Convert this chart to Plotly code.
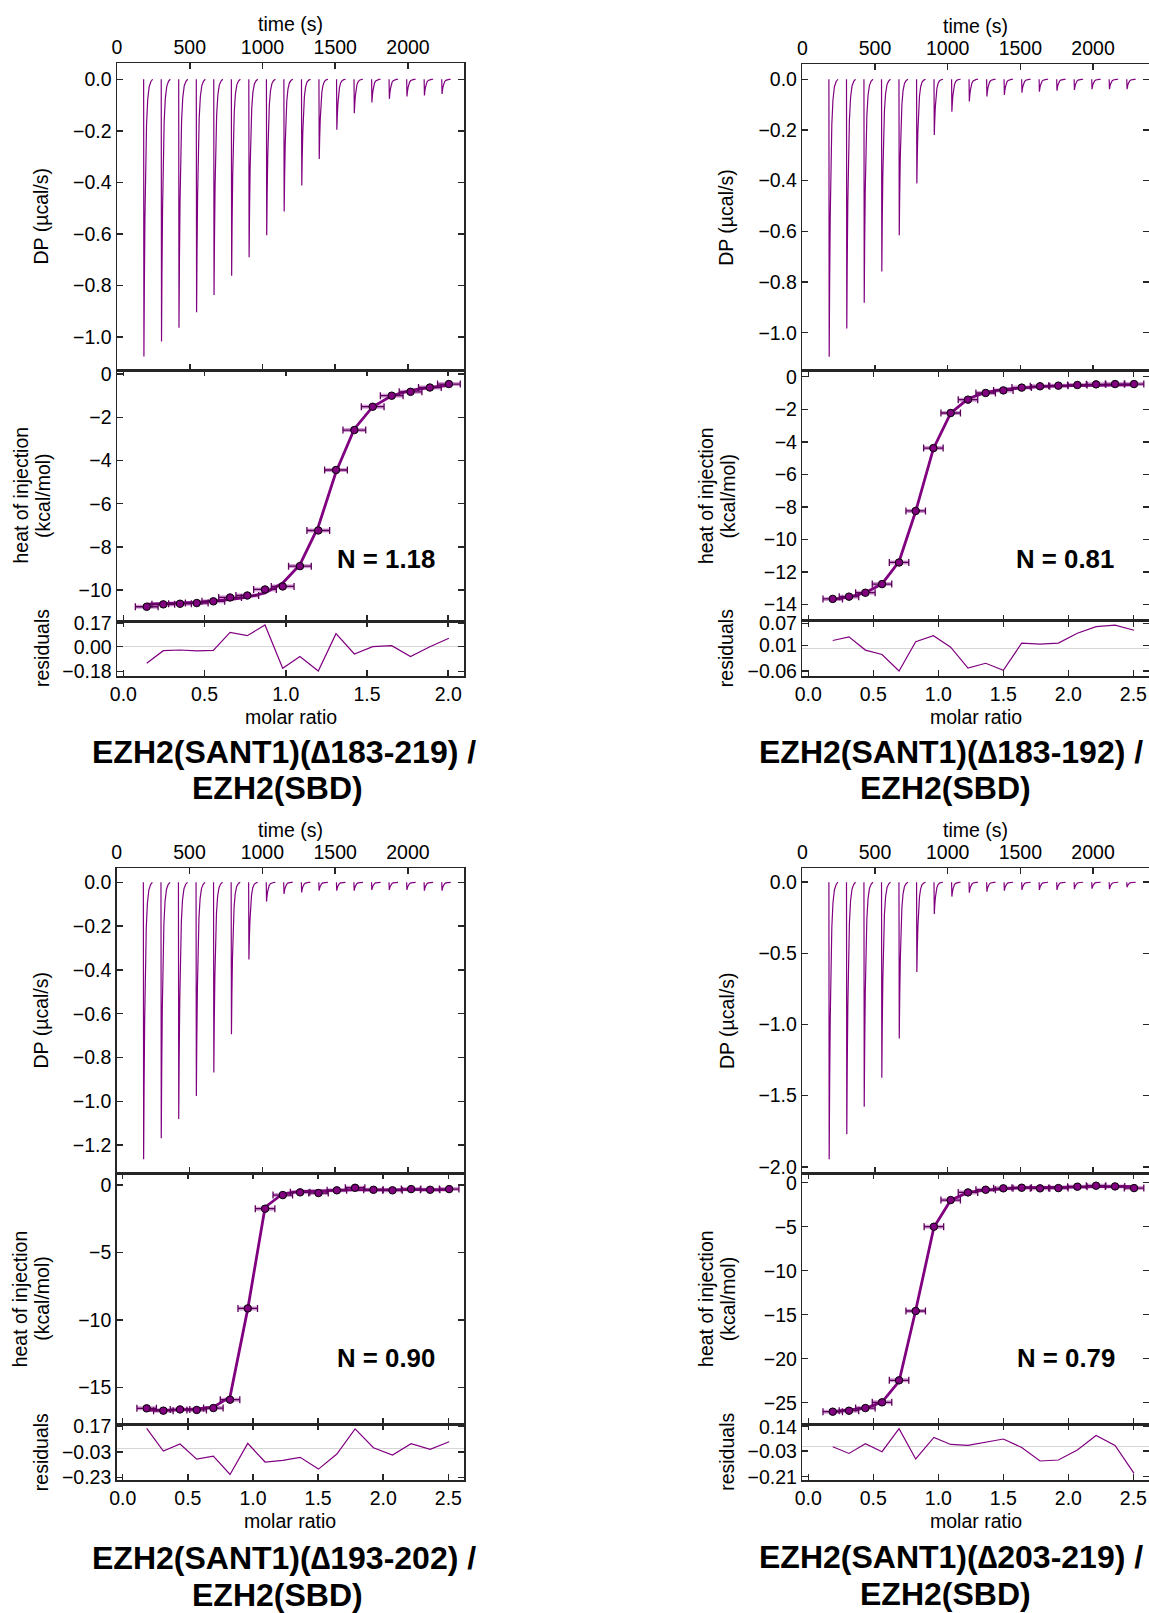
import plotly.graph_objects as go

FONT = "Liberation Sans, Arial, Helvetica, sans-serif"
W, H = 1149, 1613
PURPLE = "#800080"
DARK = "#5a005a"
LIGHT = "rgba(175,70,175,0.55)"
FRAME = "#262626"

# ---------------- data ----------------
inj_time = [183, 304, 424, 545, 665, 786, 906, 1027, 1147, 1268, 1388, 1509,
            1629, 1750, 1870, 1991, 2111, 2232]
# recovery profile of one injection peak (seconds after injection, fraction of peak)
spike_dt = [0, 2, 5, 9, 14, 20, 28, 38, 50, 62]
spike_frac = [0, 1.0, 0.74, 0.5, 0.3, 0.165, 0.074, 0.027, 0.008, 0.0]
time_ticks = [0, 500, 1000, 1500, 2000]

# Panel A
a_title1 = "EZH2(SANT1)(∆183-219) /"
a_title2 = "EZH2(SBD)"
a_n = "N = 1.18"
a_peak = [-1.075, -1.017, -0.963, -0.903, -0.836, -0.762, -0.690, -0.605, -0.513,
          -0.412, -0.309, -0.196, -0.132, -0.090, -0.076, -0.067, -0.063, -0.057]
a_ratio = [0.144, 0.246, 0.349, 0.452, 0.554, 0.657, 0.763, 0.872, 0.981, 1.087,
           1.200, 1.309, 1.422, 1.535, 1.652, 1.768, 1.887, 2.004]
a_heat = [-10.77, -10.66, -10.63, -10.60, -10.52, -10.34, -10.25, -9.97, -9.83,
          -8.89, -7.24, -4.44, -2.59, -1.51, -1.00, -0.82, -0.62, -0.46]
a_resid = [-0.121, -0.029, -0.024, -0.031, -0.026, 0.104, 0.080, 0.158, -0.157,
           -0.072, -0.177, 0.095, -0.053, 0.000, 0.008, -0.072, 0.000, 0.061]
a_res_ticks = [0.17, 0.0, -0.18]
a_res_labels = ["0.17", "0.00", "−0.18"]

# Panel B
b_title1 = "EZH2(SANT1)(∆183-192) /"
b_title2 = "EZH2(SBD)"
b_n = "N = 0.81"
b_peak = [-1.095, -0.983, -0.882, -0.759, -0.616, -0.411, -0.220, -0.128, -0.088,
          -0.068, -0.062, -0.053, -0.049, -0.045, -0.042, -0.039, -0.039, -0.039]
b_ratio = [0.188, 0.313, 0.439, 0.567, 0.698, 0.826, 0.962, 1.095, 1.228, 1.364,
           1.500, 1.641, 1.782, 1.923, 2.069, 2.213, 2.359, 2.505]
b_heat = [-13.66, -13.52, -13.28, -12.75, -11.42, -8.25, -4.39, -2.23, -1.41,
          -1.00, -0.84, -0.67, -0.59, -0.55, -0.51, -0.47, -0.45, -0.45]
b_resid = [0.023, 0.033, -0.003, -0.015, -0.060, 0.020, 0.036, 0.005, -0.052,
           -0.039, -0.058, 0.016, 0.013, 0.016, 0.043, 0.061, 0.065, 0.051]
b_res_ticks = [0.07, 0.01, -0.06]
b_res_labels = ["0.07", "0.01", "−0.06"]

# Panel C
c_title1 = "EZH2(SANT1)(∆193-202) /"
c_title2 = "EZH2(SBD)"
c_n = "N = 0.90"
c_peak = [-1.265, -1.169, -1.081, -0.976, -0.869, -0.694, -0.352, -0.088, -0.053,
          -0.046, -0.038, -0.038, -0.038, -0.035, -0.035, -0.035, -0.038, -0.038]
c_ratio = [0.184, 0.312, 0.440, 0.568, 0.696, 0.824, 0.960, 1.093, 1.229, 1.362,
           1.503, 1.644, 1.784, 1.925, 2.071, 2.214, 2.360, 2.506]
c_heat = [-16.53, -16.70, -16.61, -16.65, -16.51, -15.89, -9.13, -1.75, -0.74,
          -0.54, -0.59, -0.39, -0.20, -0.35, -0.39, -0.30, -0.35, -0.30]
c_resid = [0.157, -0.022, 0.033, -0.086, -0.062, -0.207, 0.038, -0.109, -0.096,
           -0.072, -0.165, -0.046, 0.152, 0.004, -0.054, 0.036, -0.009, 0.051]
c_res_ticks = [0.17, -0.03, -0.23]
c_res_labels = ["0.17", "−0.03", "−0.23"]

# Panel D
d_title1 = "EZH2(SANT1)(∆203-219) /"
d_title2 = "EZH2(SBD)"
d_n = "N = 0.79"
d_peak = [-1.948, -1.772, -1.578, -1.374, -1.099, -0.631, -0.223, -0.101, -0.073,
          -0.066, -0.059, -0.054, -0.054, -0.054, -0.049, -0.045, -0.049, -0.035]
d_ratio = [0.188, 0.313, 0.439, 0.567, 0.698, 0.826, 0.966, 1.095, 1.228, 1.364,
           1.500, 1.641, 1.782, 1.923, 2.069, 2.213, 2.359, 2.505]
d_heat = [-26.02, -25.91, -25.61, -24.96, -22.46, -14.58, -5.00, -1.97, -1.10,
          -0.80, -0.64, -0.57, -0.64, -0.61, -0.45, -0.34, -0.42, -0.61]
d_resid = [0.000, -0.047, 0.021, -0.035, 0.126, -0.086, 0.065, 0.016, 0.009,
           0.033, 0.054, -0.005, -0.100, -0.093, -0.023, 0.079, 0.009, -0.187]
d_res_ticks = [0.14, -0.03, -0.21]
d_res_labels = ["0.14", "−0.03", "−0.21"]

# ---------------- layout config (positions in pixels) ----------------
panels = [
    dict(t1=a_title1, t2=a_title2, n=a_n, peak=a_peak, ratio=a_ratio, heat=a_heat,
         resid=a_resid, rt=a_res_ticks, rl=a_res_labels,
         frame=(117, 464, 63, 370, 621, 676), dp_range=[-1.127, 0.063], dp_dtick=0.2,
         ratio_range=[-0.039, 2.097], heat_range=[-11.43, 0.19], heat_dtick=2,
         res_range=[-0.213, 0.187], xerr=0.07,
         n_xy=(385.8, 559), t1_xy=(284, 751.7), t2_xy=(277.5, 788)),
    dict(t1=b_title1, t2=b_title2, n=b_n, peak=b_peak, ratio=b_ratio, heat=b_heat,
         resid=b_resid, rt=b_res_ticks, rl=b_res_labels,
         frame=(802.3, 1149, 64.3, 370.7, 620.7, 676), dp_range=[-1.15, 0.059], dp_dtick=0.2,
         ratio_range=[-0.046, 2.62], heat_range=[-15.0, 0.37], heat_dtick=2,
         res_range=[-0.0736, 0.077], xerr=0.075,
         n_xy=(1065, 559), t1_xy=(950.7, 751.7), t2_xy=(945, 788)),
    dict(t1=c_title1, t2=c_title2, n=c_n, peak=c_peak, ratio=c_ratio, heat=c_heat,
         resid=c_resid, rt=c_res_ticks, rl=c_res_labels,
         frame=(116.7, 464, 868.3, 1173.3, 1424, 1480), dp_range=[-1.329, 0.064], dp_dtick=0.2,
         ratio_range=[-0.046, 2.62], heat_range=[-17.69, 0.87], heat_dtick=5,
         res_range=[-0.251, 0.191], xerr=0.075,
         n_xy=(385.8, 1357.5), t1_xy=(284, 1558), t2_xy=(277.5, 1595)),
    dict(t1=d_title1, t2=d_title2, n=d_n, peak=d_peak, ratio=d_ratio, heat=d_heat,
         resid=d_resid, rt=d_res_ticks, rl=d_res_labels,
         frame=(802.3, 1149, 868.3, 1173.3, 1424, 1480), dp_range=[-2.046, 0.098], dp_dtick=0.5,
         ratio_range=[-0.046, 2.62], heat_range=[-27.42, 1.07], heat_dtick=5,
         res_range=[-0.233, 0.159], xerr=0.075,
         n_xy=(1065.8, 1357.5), t1_xy=(950.7, 1557), t2_xy=(945, 1594)),
]

TICKFONT = dict(family=FONT, size=19.5, color="black")
base_axis = dict(showline=True, linecolor=FRAME, linewidth=1.5, mirror="ticks",
                 ticks="inside", ticklen=6, tickwidth=1.5, tickcolor=FRAME,
                 showgrid=False, zeroline=False, tickfont=TICKFONT, fixedrange=True,
                 automargin=False)


def px(x):
    return x / W


def py(y):
    return 1 - y / H


def nm(i):
    return "" if i == 1 else str(i)


fig = go.Figure()
layout = {}
ann = []


def add_text(text, x, y, size=19.5, angle=0, bold=False):
    ann.append(dict(text=("<b>%s</b>" % text) if bold else text, x=px(x), y=py(y),
                    xref="paper", yref="paper", showarrow=False, textangle=angle,
                    xanchor="center", yanchor="middle",
                    font=dict(family=FONT, size=size, color="black")))


for j, p in enumerate(panels):
    L, R, T, M1, M2, B = p["frame"]
    xd = [px(L), min(px(R), 1.0)]
    i_dp, i_ht, i_rs = 3 * j + 1, 3 * j + 2, 3 * j + 3

    # thermogram
    xs, ys = [], []
    for t0, pk in zip(inj_time, p["peak"]):
        for dt, fr in zip(spike_dt, spike_frac):
            xs.append(t0 + dt)
            ys.append(pk * fr)
        xs.append(None)
        ys.append(None)
    fig.add_trace(go.Scatter(x=xs, y=ys, mode="lines", line=dict(color=PURPLE, width=1.2),
                             xaxis="x" + nm(i_dp), yaxis="y" + nm(i_dp), hoverinfo="skip"))

    # isotherm
    fit = [h - r for h, r in zip(p["heat"], p["resid"])]
    fig.add_trace(go.Scatter(x=p["ratio"], y=p["heat"], mode="markers",
                             marker=dict(size=1, color="rgba(0,0,0,0)"),
                             error_x=dict(type="constant", value=p["xerr"], color=LIGHT,
                                          thickness=4, width=0),
                             xaxis="x" + nm(i_ht), yaxis="y" + nm(i_ht), hoverinfo="skip"))
    fig.add_trace(go.Scatter(x=p["ratio"], y=fit, mode="lines",
                             line=dict(color=PURPLE, width=2.8),
                             xaxis="x" + nm(i_ht), yaxis="y" + nm(i_ht), hoverinfo="skip"))
    fig.add_trace(go.Scatter(x=p["ratio"], y=p["heat"], mode="markers",
                             marker=dict(size=7.5, color=PURPLE, line=dict(color="black", width=1)),
                             error_x=dict(type="constant", value=p["xerr"], color=DARK,
                                          thickness=1.3, width=3.5),
                             xaxis="x" + nm(i_ht), yaxis="y" + nm(i_ht), hoverinfo="skip"))

    # residuals
    fig.add_trace(go.Scatter(x=p["ratio"], y=p["resid"], mode="lines",
                             line=dict(color=PURPLE, width=1.2),
                             xaxis="x" + nm(i_rs), yaxis="y" + nm(i_rs), hoverinfo="skip"))

    # axes
    layout["xaxis" + nm(i_dp)] = dict(base_axis, domain=xd, anchor="y" + nm(i_dp), side="top",
                                      range=[0, 2385], tickvals=time_ticks)
    layout["yaxis" + nm(i_dp)] = dict(base_axis, domain=[py(M1), py(T)], anchor="x" + nm(i_dp),
                                      range=p["dp_range"], tick0=0, dtick=p["dp_dtick"],
                                      tickformat=".1f")
    layout["xaxis" + nm(i_ht)] = dict(base_axis, domain=xd, anchor="y" + nm(i_ht),
                                      range=p["ratio_range"], tick0=0, dtick=0.5,
                                      showticklabels=False)
    layout["yaxis" + nm(i_ht)] = dict(base_axis, domain=[py(M2), py(M1)], anchor="x" + nm(i_ht),
                                      range=p["heat_range"], tick0=0, dtick=p["heat_dtick"])
    layout["xaxis" + nm(i_rs)] = dict(base_axis, domain=xd, anchor="y" + nm(i_rs),
                                      range=p["ratio_range"], tick0=0, dtick=0.5,
                                      tickformat=".1f")
    layout["yaxis" + nm(i_rs)] = dict(base_axis, domain=[py(B), py(M2)], anchor="x" + nm(i_rs),
                                      range=p["res_range"], tickvals=p["rt"], ticktext=p["rl"],
                                      zeroline=True, zerolinecolor="#d6d6d6", zerolinewidth=1)

    # text
    cx = (L + R) / 2
    add_text("time (s)", cx, T - 38.5)
    add_text("DP (µcal/s)", L - 76, (T + M1) / 2, angle=-90)
    add_text("heat of injection", L - 97, (M1 + M2) / 2, angle=-90)
    add_text("(kcal/mol)", L - 74.6, (M1 + M2) / 2, angle=-90)
    add_text("residuals", L - 75.5, (M2 + B) / 2, angle=-90)
    add_text("molar ratio", cx, B + 41)
    add_text(p["n"], p["n_xy"][0], p["n_xy"][1], size=25.8, bold=True)
    add_text(p["t1"], p["t1_xy"][0], p["t1_xy"][1], size=32, bold=True)
    add_text(p["t2"], p["t2_xy"][0], p["t2_xy"][1], size=32, bold=True)

fig.update_layout(**layout)
fig.update_layout(template="none", width=W, height=H, margin=dict(l=0, r=0, t=0, b=0),
                  plot_bgcolor="white", paper_bgcolor="white", showlegend=False,
                  annotations=ann, font=dict(family=FONT, color="black"))

fig.write_html("out.html", config={"displayModeBar": False, "staticPlot": True},
               post_script="document.body.style.margin='0';document.body.style.overflow='hidden';")
